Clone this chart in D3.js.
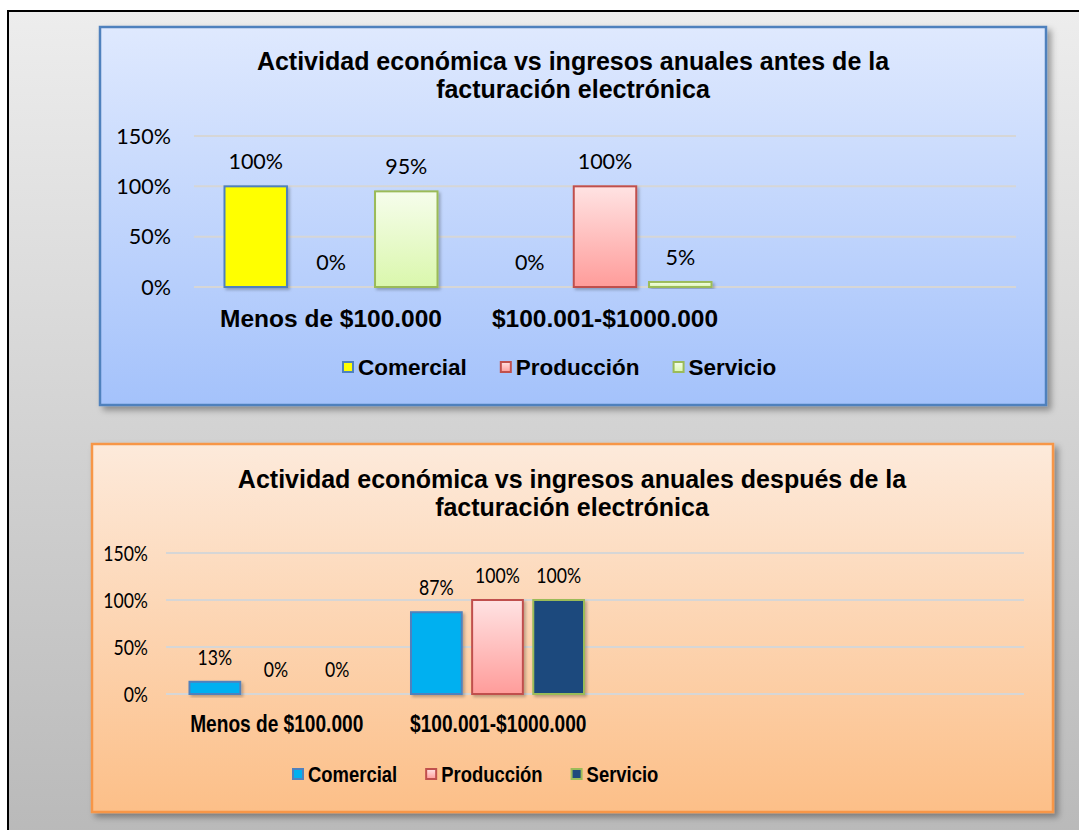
<!DOCTYPE html>
<html>
<head>
<meta charset="utf-8">
<script src="https://cdn.jsdelivr.net/npm/d3@7"></script>
<style>
  body { margin: 0; background: #fff; }
  svg { display: block; }
</style>
</head>
<body>
<div id="chart"></div>
<script>
  // datos
  const categories = ["Menos de $100.000", "$100.001-$1000.000"];
  const series = ["Comercial", "Producción", "Servicio"];
  const antesComercial = [1.00, 0.00];
  const antesProduccion = [0.00, 1.00];
  const antesServicio = [0.95, 0.05];
  const despuesComercial = [0.13, 0.87];
  const despuesProduccion = [0.00, 1.00];
  const despuesServicio = [0.00, 1.00];
  const yTicks = [0, 0.5, 1, 1.5];
  const titleAntes = ["Actividad económica vs ingresos anuales antes de la", "facturación electrónica"];
  const titleDespues = ["Actividad económica vs ingresos anuales después de la", "facturación electrónica"];

  const W = 1079, H = 830;
  const boldFont = "'Liberation Sans', Arial, sans-serif";
  const numFont = "Lato, 'Noto Sans', sans-serif";

  const svg = d3.select("#chart").append("svg")
    .attr("width", W)
    .attr("height", H);

  const defs = svg.append("defs");

  function vGrad(id, top, bottom) {
    const g = defs.append("linearGradient").attr("id", id)
      .attr("x1", 0).attr("y1", 0).attr("x2", 0).attr("y2", 1);
    g.append("stop").attr("offset", "0%").attr("stop-color", top);
    g.append("stop").attr("offset", "100%").attr("stop-color", bottom);
  }
  vGrad("frameGrad", "#ededed", "#b9b9b9");
  vGrad("blueGrad", "#dfe9fe", "#a4c2fb");
  vGrad("orangeGrad", "#fdeadb", "#fcbf88");
  vGrad("pinkGrad", "#ffe3e3", "#ff9c9a");
  vGrad("greenGrad", "#f6fdec", "#daf7ac");

  const sh = defs.append("filter").attr("id", "shadow")
    .attr("x", "-5%").attr("y", "-5%").attr("width", "115%").attr("height", "115%");
  sh.append("feDropShadow").attr("dx", 4).attr("dy", 4).attr("stdDeviation", 3)
    .attr("flood-color", "#000").attr("flood-opacity", 0.35);
  const bsh = defs.append("filter").attr("id", "barShadow")
    .attr("x", "-20%").attr("y", "-20%").attr("width", "150%").attr("height", "150%");
  bsh.append("feDropShadow").attr("dx", 2).attr("dy", 2).attr("stdDeviation", 1.5)
    .attr("flood-color", "#000").attr("flood-opacity", 0.25);

  // marco exterior
  svg.append("rect")
    .attr("x", 8).attr("y", 11)
    .attr("width", W).attr("height", H)
    .attr("fill", "url(#frameGrad)")
    .attr("stroke", "#000")
    .attr("stroke-width", 2);

  const charts = [
    {
      title: titleAntes,
      values: [antesComercial, antesProduccion, antesServicio],
      fills: ["#ffff00", "url(#pinkGrad)", "url(#greenGrad)"],
      strokes: ["#4f81bd", "#c0504d", "#9bbb59"],
      panel: { x: 100, y: 27, w: 946, h: 378, fill: "url(#blueGrad)", stroke: "#4f81bd" },
      titleX: 573, titleY: [70, 98],
      left: 194, right: 1016, bandStep: 274, inner: [30.5, 243.5],
      y0: 287, yTop: 136, tickX: 171,
      catY: 327, catSx: 1, legendY: 367, legendX: 342, legendGap: 33, legendSx: 1, sx: 1
    },
    {
      title: titleDespues,
      values: [despuesComercial, despuesProduccion, despuesServicio],
      fills: ["#00b0f0", "url(#pinkGrad)", "#1f497d"],
      strokes: ["#4f81bd", "#c0504d", "#9bbb59"],
      panel: { x: 92, y: 444, w: 961, h: 368, fill: "url(#orangeGrad)", stroke: "#f79646" },
      titleX: 572, titleY: [488, 516],
      left: 166, right: 1024, bandStep: 221.5, inner: [23.5, 196.5],
      y0: 694, yTop: 553, tickX: 148,
      catY: 732, catSx: 0.78, legendY: 774, legendX: 292, legendGap: 28, legendSx: 0.82, sx: 0.82
    }
  ];

  charts.forEach(c => {
    const g = svg.append("g");

    g.append("rect")
      .attr("x", c.panel.x).attr("y", c.panel.y)
      .attr("width", c.panel.w).attr("height", c.panel.h)
      .attr("fill", c.panel.fill)
      .attr("stroke", c.panel.stroke)
      .attr("stroke-width", 2.5)
      .attr("filter", "url(#shadow)");

    // título
    g.selectAll(".title").data(c.title).join("text")
      .attr("x", c.titleX)
      .attr("y", (d, i) => c.titleY[i])
      .attr("text-anchor", "middle")
      .style("font-family", boldFont)
      .style("font-weight", "bold")
      .style("font-size", "25px")
      .text(d => d);

    const y = d3.scaleLinear().domain([0, 1.5]).range([c.y0, c.yTop]);
    // tres posiciones de categoría, la tercera vacía
    const x0 = d3.scaleBand().domain([...categories, ""])
      .range([c.left, c.left + 3 * c.bandStep]);
    const x1 = d3.scaleBand().domain(series).range(c.inner).paddingInner(0.17);

    // líneas de división
    g.selectAll(".grid").data(yTicks).join("line")
      .attr("x1", c.left).attr("x2", c.right)
      .attr("y1", d => y(d)).attr("y2", d => y(d))
      .attr("stroke", "#d6d6d6")
      .attr("stroke-width", 2);

    // etiquetas del eje
    const fmt = d3.format(".0%");
    g.selectAll(".tick").data(yTicks).join("text")
      .attr("transform", d => `translate(${c.tickX},${y(d)}) scale(${c.sx},1)`)
      .attr("text-anchor", "end")
      .attr("dy", "0.36em")
      .style("font-family", numFont)
      .style("font-size", "21.5px")
      .text(d => fmt(d));

    // barras
    const rows = [];
    c.values.forEach((vals, si) => {
      vals.forEach((v, ci) => rows.push({ s: series[si], si, cat: categories[ci], v }));
    });

    g.selectAll(".bar").data(rows.filter(d => d.v > 0)).join("rect")
      .attr("x", d => x0(d.cat) + x1(d.s))
      .attr("y", d => y(d.v))
      .attr("width", x1.bandwidth())
      .attr("height", d => y(0) - y(d.v))
      .attr("fill", d => c.fills[d.si])
      .attr("stroke", d => c.strokes[d.si])
      .attr("stroke-width", 2)
      .attr("filter", "url(#barShadow)");

    g.selectAll(".val").data(rows).join("text")
      .attr("transform", d => `translate(${x0(d.cat) + x1(d.s) + x1.bandwidth() / 2},${y(d.v) - 25}) scale(${c.sx},1)`)
      .attr("text-anchor", "middle")
      .attr("dy", "0.36em")
      .style("font-family", numFont)
      .style("font-size", "21.5px")
      .text(d => fmt(d.v));

    // categorías
    g.selectAll(".cat").data(categories).join("text")
      .attr("transform", d => `translate(${x0(d) + x0.bandwidth() / 2},${c.catY}) scale(${c.catSx},1)`)
      .attr("text-anchor", "middle")
      .style("font-family", boldFont)
      .style("font-weight", "bold")
      .style("font-size", "24.5px")
      .text(d => d);

    // leyenda
    let lx = c.legendX;
    series.forEach((s, i) => {
      g.append("rect")
        .attr("x", lx + 1).attr("y", c.legendY - 5)
        .attr("width", 10).attr("height", 10)
        .attr("fill", c.fills[i])
        .attr("stroke", c.strokes[i])
        .attr("stroke-width", 2);
      const t = g.append("text")
        .attr("transform", `translate(${lx + 16},${c.legendY}) scale(${c.legendSx},1)`)
        .attr("dy", "0.36em")
        .style("font-family", boldFont)
        .style("font-weight", "bold")
        .style("font-size", "22.5px")
        .text(s);
      lx += 16 + t.node().getComputedTextLength() * c.legendSx + c.legendGap;
    });
  });
</script>
</body>
</html>
